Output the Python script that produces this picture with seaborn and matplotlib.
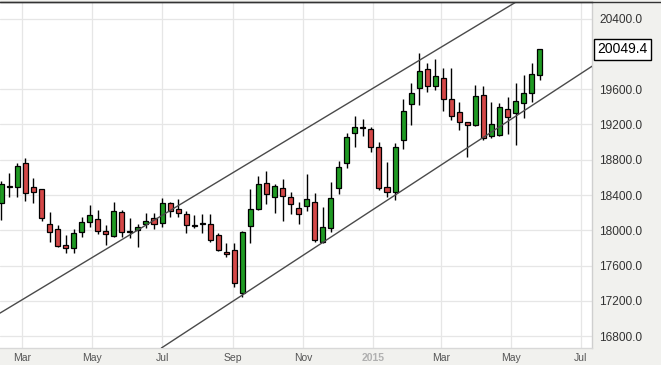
import numpy as np
import pandas as pd
import matplotlib
matplotlib.use("Agg")
import matplotlib.pyplot as plt
import matplotlib.dates as mdates
from matplotlib.lines import Line2D
import seaborn as sns

# ---------------- data ----------------
start_date = "2014-02-11"
opens = [18310, 18500, 18494, 18759, 18494, 18465, 18068, 18012, 17830, 17803,
         17978, 18098, 18132, 17992, 17936, 18211, 17990, 18000, 18068, 18136,
         18079, 18306, 18239, 18185, 18060, 18075, 18071, 17947, 17760, 17777,
         17286, 18052, 18239, 18533, 18374, 18476, 18374, 18250, 18276, 18324,
         17871, 18023, 18476, 18766, 19099, 19170, 19144, 18947, 18488, 18431,
         19027, 19428, 19609, 19824, 19635, 19723, 19485, 19337, 19224, 19193,
         19533, 19069, 19080, 19371, 19326, 19446, 19560, 19760]
highs = [18560, 18650, 18766, 18816, 18589, 18470, 18211, 18060, 17947, 18012,
         18148, 18287, 18230, 18060, 18324, 18225, 18135, 18075, 18193, 18193,
         18363, 18324, 18352, 18222, 18174, 18185, 18185, 17973, 17853, 17853,
         17992, 18465, 18616, 18672, 18520, 18582, 18431, 18324, 18638, 18426,
         18268, 18551, 18786, 19099, 19295, 19258, 19174, 19004, 18777, 18993,
         19485, 19666, 20012, 19899, 19938, 19836, 19843, 19457, 19230, 19647,
         19635, 19457, 19446, 19514, 19666, 19760, 19899, 20060]
lows = [18117, 18378, 18381, 18332, 18306, 18109, 17871, 17815, 17740, 17740,
        17928, 18041, 17958, 17830, 17921, 17928, 17910, 17815, 18023, 18012,
        18041, 18148, 18148, 17973, 18023, 17973, 17871, 17770, 17694, 17354,
        17248, 17853, 18230, 18295, 18193, 18106, 18185, 18071, 18222, 17871,
        17860, 17984, 18408, 18703, 18941, 19069, 18891, 18457, 18374, 18344,
        18919, 19193, 19420, 19564, 19590, 19355, 19250, 19137, 18828, 19182,
        19027, 19042, 19069, 19091, 18967, 19276, 19457, 19703]
closes = [18525, 18490, 18732, 18420, 18431, 18136, 17984, 17822, 17796, 17973,
          18091, 18170, 17989, 17955, 18219, 17984, 17984, 18034, 18106, 18068,
          18306, 18222, 18193, 18060, 18045, 18070, 17890, 17777, 17728, 17400,
          17984, 18239, 18525, 18412, 18502, 18392, 18295, 18182, 18352, 17890,
          18041, 18363, 18714, 19054, 19167, 19160, 18947, 18476, 18431, 18941,
          19355, 19553, 19809, 19635, 19749, 19485, 19295, 19231, 19193, 19522,
          19042, 19201, 19401, 19288, 19469, 19560, 19771, 20049.4]

# channel trend lines: two anchor points each (date, value)
upper_dates = ["2014-05-12", "2015-03-26"]
upper_values = [17777, 20270]
lower_dates = ["2014-09-05", "2015-06-05"]
lower_values = [17233, 19556]

y_ticks = [16800, 17200, 17600, 18000, 18400, 18800, 19200, 19600, 20400]
x_tick_dates = ["2014-03-01", "2014-05-01", "2014-07-01", "2014-09-01", "2014-11-01",
                "2015-01-01", "2015-03-01", "2015-05-01", "2015-07-01"]
x_tick_labels = ["Mar", "May", "Jul", "Sep", "Nov", "2015", "Mar", "May", "Jul"]
last_value_label = "20049.4"

# ---------------- style ----------------
sns.set_theme(style="white")
plt.rcParams["font.family"] = ["Liberation Sans", "DejaVu Sans"]

df = pd.DataFrame({
    "date": pd.date_range(start_date, periods=len(opens), freq="7D"),
    "open": opens, "high": highs, "low": lows, "close": closes,
})
df["x"] = mdates.date2num(df["date"])
df["up"] = df["close"] >= df["open"]

W, H = 661, 365
fig = plt.figure(figsize=(W / 100, H / 100), dpi=100)
fig.patch.set_facecolor("#f1f1ee")
ax = fig.add_axes([0, 17 / H, 592 / W, 346 / H])
ax.set_facecolor("white")

GREEN = "#1f9a23"
RED = "#d44848"

# wicks
ax.vlines(df["x"], df["low"], df["high"], color="black", lw=1.0, zorder=2)
# bodies
body_w = 4.4
bottoms = np.minimum(df["open"], df["close"])
heights = np.maximum(np.abs(df["close"] - df["open"]), 8)
colors = [GREEN if u else RED for u in df["up"]]
ax.bar(df["x"], heights, bottom=bottoms, width=body_w, color=colors,
       edgecolor="black", linewidth=0.9, zorder=3, align="center")

# channel lines
ux = mdates.date2num(pd.to_datetime(upper_dates))
lx = mdates.date2num(pd.to_datetime(lower_dates))
ax.axline((ux[0], upper_values[0]), (ux[1], upper_values[1]), color="#4a4a4a", lw=1.0, zorder=4)
ax.axline((lx[0], lower_values[0]), (lx[1], lower_values[1]), color="#4a4a4a", lw=1.0, zorder=4)

# scales
x0 = mdates.date2num(pd.Timestamp("2014-03-01"))
ax.set_xlim(x0 - 22 / 1.1478, x0 + (592 - 22) / 1.1478)
ax.set_ylim(20400 - (348 - 18.5) * 11.33, 20400 + (18.5 - 2) * 11.33)

ax.set_yticks(y_ticks)
ax.set_yticklabels([f"{v:.1f}" for v in y_ticks])
ax.yaxis.tick_right()
ax.tick_params(axis="y", length=0, pad=5, labelsize=8.6, colors="#333333")

ax.set_xticks(mdates.date2num(pd.to_datetime(x_tick_dates)))
ax.set_xticklabels(x_tick_labels)
ax.tick_params(axis="x", length=0, pad=3.5, labelsize=7.5, colors="#555555")
for lbl in ax.get_xticklabels():
    if lbl.get_text() == "2015":
        lbl.set_color("#b0b0b0")
        lbl.set_fontweight("bold")

ax.grid(True, color="#e6e6e6", lw=0.9)
ax.set_axisbelow(True)
ax.spines["left"].set_visible(False)
ax.spines["right"].set_color("#cfcfcf")
ax.spines["bottom"].set_color("#d8d8d8")
ax.spines["top"].set_color("#333333")
ax.spines["top"].set_linewidth(1.0)
for s in ["right", "bottom"]:
    ax.spines[s].set_linewidth(1.0)

# full-width top rule
fig.add_artist(Line2D([0, 1], [1 - 2 / H, 1 - 2 / H], transform=fig.transFigure,
                      color="#333333", lw=1.0))

# last value box
ax.annotate(last_value_label, xy=(1, closes[-1]), xycoords=("axes fraction", "data"),
            xytext=(4, 0), textcoords="offset points", va="center", ha="left",
            fontsize=10, color="black", annotation_clip=False,
            bbox=dict(boxstyle="square,pad=0.25", fc="white", ec="black", lw=1.0))

fig.savefig("out.png", dpi=100, facecolor=fig.get_facecolor())
